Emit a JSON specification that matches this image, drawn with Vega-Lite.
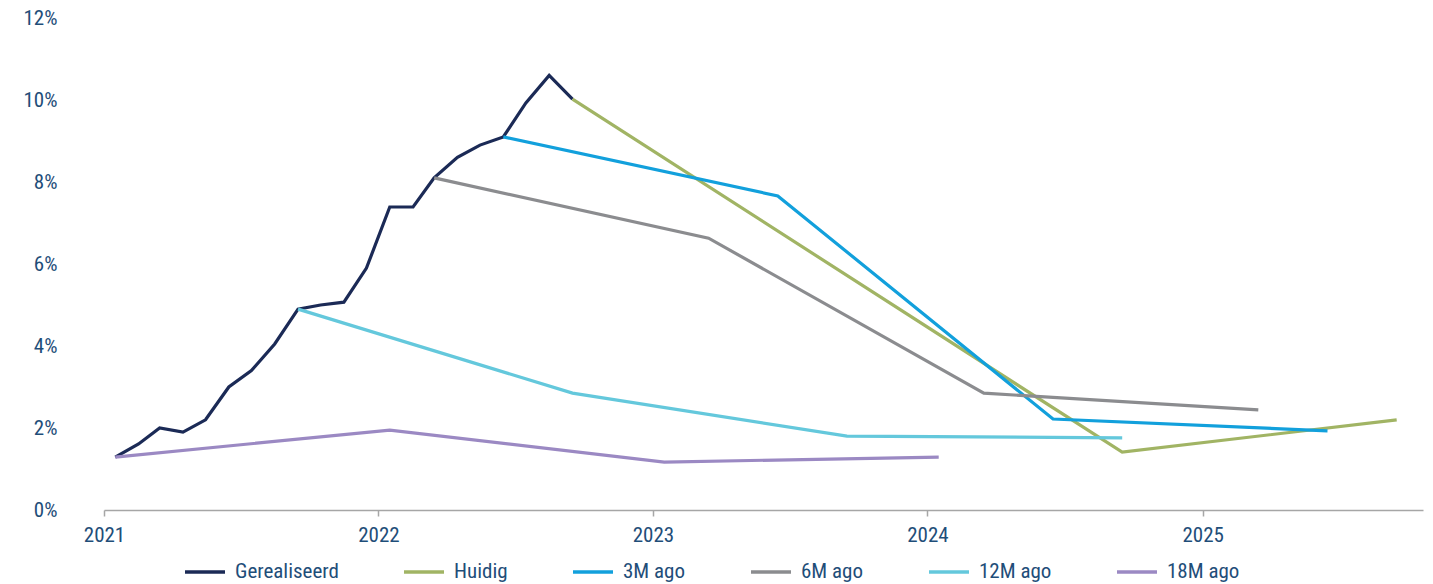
{
  "$schema": "https://vega.github.io/schema/vega-lite/v6.json",
  "width": 1319,
  "height": 492,
  "autosize": {"type": "none"},
  "padding": {"left": 104, "top": 18, "right": 10, "bottom": 74},
  "background": "white",
  "config": {
    "view": {"stroke": null},
    "font": "Roboto Condensed, DejaVu Sans Condensed, Roboto",
    "axis": {"labelFont": "Roboto Condensed, DejaVu Sans Condensed, Roboto", "labelColor": "#1f4e79", "labelFontSize": 21, "grid": false, "title": null}
  },
  "data": {
    "values": [
      {"date": "2021-01-16", "series": "Gerealiseerd", "v": 1.29},
      {"date": "2021-02-16", "series": "Gerealiseerd", "v": 1.61},
      {"date": "2021-03-16", "series": "Gerealiseerd", "v": 2.0},
      {"date": "2021-04-16", "series": "Gerealiseerd", "v": 1.9},
      {"date": "2021-05-16", "series": "Gerealiseerd", "v": 2.2},
      {"date": "2021-06-16", "series": "Gerealiseerd", "v": 3.0},
      {"date": "2021-07-16", "series": "Gerealiseerd", "v": 3.4},
      {"date": "2021-08-16", "series": "Gerealiseerd", "v": 4.05},
      {"date": "2021-09-16", "series": "Gerealiseerd", "v": 4.9},
      {"date": "2021-10-16", "series": "Gerealiseerd", "v": 5.0},
      {"date": "2021-11-16", "series": "Gerealiseerd", "v": 5.07},
      {"date": "2021-12-16", "series": "Gerealiseerd", "v": 5.9},
      {"date": "2022-01-16", "series": "Gerealiseerd", "v": 7.39},
      {"date": "2022-02-16", "series": "Gerealiseerd", "v": 7.39},
      {"date": "2022-03-16", "series": "Gerealiseerd", "v": 8.1},
      {"date": "2022-04-16", "series": "Gerealiseerd", "v": 8.6},
      {"date": "2022-05-16", "series": "Gerealiseerd", "v": 8.9},
      {"date": "2022-06-16", "series": "Gerealiseerd", "v": 9.1},
      {"date": "2022-07-16", "series": "Gerealiseerd", "v": 9.93},
      {"date": "2022-08-16", "series": "Gerealiseerd", "v": 10.6},
      {"date": "2022-09-16", "series": "Gerealiseerd", "v": 10.02},
      {"date": "2022-09-16", "series": "Huidig", "v": 10.02},
      {"date": "2024-09-16", "series": "Huidig", "v": 1.41},
      {"date": "2025-09-16", "series": "Huidig", "v": 2.2},
      {"date": "2022-06-16", "series": "3M ago", "v": 9.1},
      {"date": "2023-06-16", "series": "3M ago", "v": 7.66},
      {"date": "2024-06-16", "series": "3M ago", "v": 2.22},
      {"date": "2025-06-16", "series": "3M ago", "v": 1.93},
      {"date": "2022-03-16", "series": "6M ago", "v": 8.1},
      {"date": "2023-03-16", "series": "6M ago", "v": 6.63},
      {"date": "2024-03-16", "series": "6M ago", "v": 2.85},
      {"date": "2025-03-16", "series": "6M ago", "v": 2.44},
      {"date": "2021-09-16", "series": "12M ago", "v": 4.9},
      {"date": "2022-09-16", "series": "12M ago", "v": 2.85},
      {"date": "2023-09-16", "series": "12M ago", "v": 1.8},
      {"date": "2024-09-16", "series": "12M ago", "v": 1.76},
      {"date": "2021-01-16", "series": "18M ago", "v": 1.29},
      {"date": "2022-01-16", "series": "18M ago", "v": 1.95},
      {"date": "2023-01-16", "series": "18M ago", "v": 1.17},
      {"date": "2024-01-16", "series": "18M ago", "v": 1.29}
    ]
  },
  "mark": {"type": "line", "strokeWidth": 3.2, "strokeJoin": "miter", "strokeCap": "butt"},
  "encoding": {
    "x": {
      "field": "date", "type": "temporal",
      "scale": {"domain": ["2021-01-01", "2025-10-21"]},
      "axis": {
        "values": ["2021-01-01", "2022-01-01", "2023-01-01", "2024-01-01", "2025-01-01"],
        "format": "%Y", "domainColor": "#a6a6a6", "domainWidth": 1.5, "tickColor": "#a6a6a6", "tickSize": 6, "tickWidth": 1.5, "labelPadding": 8, "labelAlign": "center"
      }
    },
    "y": {
      "field": "v", "type": "quantitative",
      "scale": {"domain": [0, 12], "nice": false},
      "axis": {"values": [0, 2, 4, 6, 8, 10, 12], "labelExpr": "datum.value + '%'", "domain": false, "ticks": false, "labelPadding": 47}
    },
    "color": {
      "field": "series", "type": "nominal",
      "scale": {
        "domain": ["Gerealiseerd", "Huidig", "3M ago", "6M ago", "12M ago", "18M ago"],
        "range": ["#1b2a56", "#a1b464", "#12a0dc", "#8b8c8f", "#64c8dc", "#9b89c3"]
      },
      "legend": {
        "title": null, "orient": "none", "direction": "horizontal", "legendX": 79, "legendY": 532,
        "symbolType": "stroke", "symbolSize": 1600, "symbolStrokeWidth": 3.5,
        "labelFont": "Roboto Condensed, DejaVu Sans Condensed, Roboto", "labelFontSize": 21, "labelColor": "#1f4e79",
        "labelOffset": 8, "columnPadding": 58, "labelLimit": 300
      }
    },
    "order": {"field": "date", "type": "temporal"}
  }
}
